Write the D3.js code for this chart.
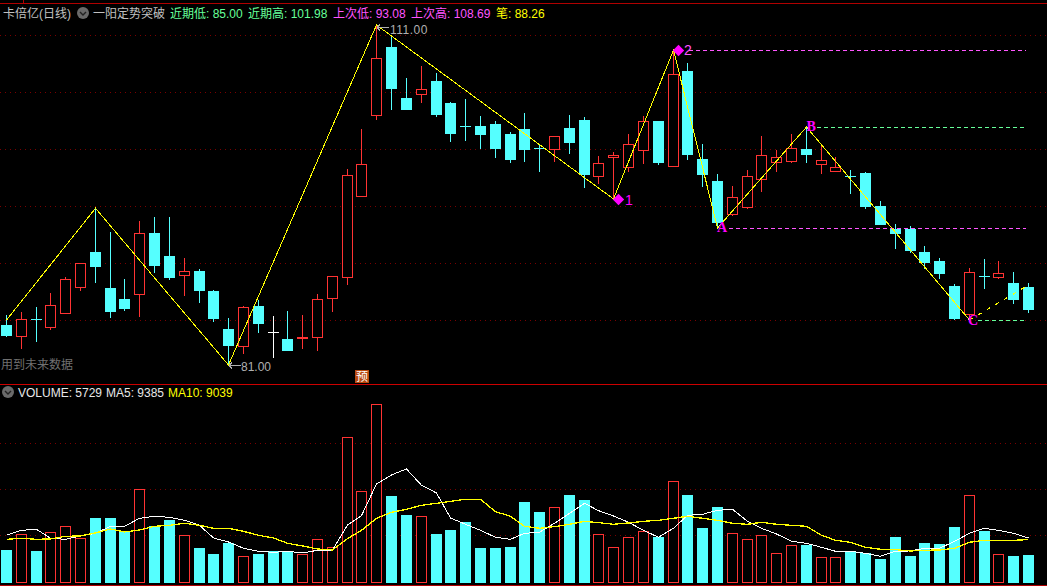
<!DOCTYPE html>
<html><head><meta charset="utf-8">
<script src="https://cdnjs.cloudflare.com/ajax/libs/d3/7.8.5/d3.min.js"></script>
<style>html,body{margin:0;padding:0;background:#000;overflow:hidden}svg{display:block}text{font-family:"Liberation Sans","Noto Sans CJK SC",sans-serif;font-size:12px}</style>
</head><body><svg id="c" width="1047" height="586"></svg>
<script>
const opens=[84.53,83.59,85.03,84.38,85.62,87.91,90.97,87.79,86.82,87.29,92.65,90.62,88.97,89.29,87.53,84.18,82.70,86.21,83.94,83.29,83.36,83.44,86.94,88.79,95.94,103.09,109.06,104.56,104.94,106.06,104.12,102.06,102.09,102.27,101.38,101.82,100.12,100.09,101.91,102.62,97.70,99.33,98.50,100.00,102.53,98.59,106.94,99.18,97.24,94.35,94.97,97.44,98.94,99.03,100.06,98.71,98.14,97.65,97.94,95.03,93.00,93.00,90.97,90.18,87.97,85.47,88.83,88.79,88.24,87.88];
const highs=[85.41,85.68,86.12,87.33,88.74,89.97,94.83,92.74,88.59,93.71,94.06,94.06,90.44,89.47,87.62,85.15,86.18,86.74,85.30,85.77,85.41,87.26,88.83,98.29,101.82,111.00,109.94,106.32,107.38,106.76,104.21,104.47,102.97,102.53,101.56,103.24,100.50,101.21,103.06,102.88,99.44,99.79,101.38,102.94,102.53,108.79,107.65,100.50,97.85,96.79,98.21,101.21,99.97,101.38,102.00,100.32,99.35,98.21,98.03,95.47,93.44,93.26,91.50,90.44,88.15,89.56,90.35,90.18,89.21,88.24];
const lows=[83.47,82.41,83.03,84.09,85.50,87.56,88.26,85.15,85.77,85.23,89.12,88.50,87.09,86.47,84.79,81.00,81.97,83.82,81.62,82.32,82.41,82.24,85.68,88.06,95.94,102.62,103.50,103.59,104.12,102.88,100.68,100.77,100.06,99.26,98.82,98.91,98.03,98.91,99.62,96.62,96.97,95.65,98.03,98.74,98.65,98.59,99.09,96.71,93.09,94.15,94.77,96.26,98.03,98.82,98.82,97.85,98.03,96.09,94.77,93.35,91.24,90.88,89.47,88.59,84.97,84.97,87.71,88.59,86.38,85.59];
const closes=[83.65,85.03,85.02,86.27,88.56,89.97,89.74,85.77,86.03,92.65,89.82,88.77,89.27,87.62,85.15,82.76,86.09,84.71,83.94,82.32,83.47,86.79,88.83,97.76,98.71,108.06,105.44,103.59,105.35,103.15,101.47,102.05,101.38,100.15,99.18,100.06,100.11,101.21,100.68,97.85,98.80,99.50,100.47,102.50,98.91,106.65,99.62,97.85,93.62,95.80,97.65,99.50,99.33,100.12,99.62,99.06,98.44,97.64,95.03,93.44,92.65,91.15,90.09,89.12,85.15,89.18,88.82,89.09,86.82,85.94];
const volumes=[6819,10175,6605,10603,11888,9318,13673,13673,10674,19814,11960,13245,9960,7247,5962,8318,5462,5962,6533,6390,5891,9104,7390,30952,19385,38021,18386,14316,14030,10246,11103,12816,7247,7247,7461,17100,14958,15958,18600,17529,10175,7390,9532,10817,9603,21527,18600,11531,16029,10389,9104,9960,6105,7818,7890,5248,5248,6605,6176,4891,9603,5534,8318,8104,11745,18528,10889,5891,5534,5729];
const ma5=[9960,11031,11246,9318,9104,9818,10389,11888,11888,13602,14030,13816,13173,12102,9389,8532,7176,6533,6319,6533,6176,6747,6819,12174,14173,20956,22884,24169,20670,19028,13673,12317,11031,9532,9104,10389,10603,12531,14673,16815,15244,14102,12745,11031,9532,11460,14244,14459,15315,15530,12959,11460,10246,8675,8247,7390,6533,6533,6105,5462,6533,6605,7176,7176,8675,10389,11460,11031,10389,9385];
const ma10=[9104,9318,9104,9175,9746,9818,10460,11317,10674,11103,11888,12102,12531,12102,11460,11460,10817,9960,9389,8247,7676,7033,6819,9246,11031,13602,14887,15530,16386,16815,17243,17672,17672,15030,14030,11888,11460,11817,12317,12959,12674,12317,12602,12959,13173,13602,14030,13602,13173,12531,12317,12745,12317,12102,11888,9960,8889,8461,7390,6962,6890,6605,6747,6819,7176,8461,8889,8889,8889,9039];
const zigIdx=[0,6,15,25,41,45,48,54,65];
const zigPrice=[84.97,94.83,81.00,111.00,95.65,108.79,93.09,102.00,84.97];
const tailIdx=[65,69];
const tailPrice=[84.97,88.06];
const priceGrid=[110.09,105.06,100.03,95.00,89.97,84.95];
const volGrid=[9950,19800,29650];
const levelLabels=["2","B","A","C"];
const levelIdx=[45,54,48,65];
const levelPrice=[108.79,102.00,93.09,84.97];
const headerTexts=["卡倍亿(日线)","一阳定势突破","近期低: 85.00","近期高: 101.98","上次低: 93.08","上次高: 108.69","笔: 88.26"];
const volTexts=["VOLUME: 5729","MA5: 9385","MA10: 9039"];

const W=1047,H=586,svg=d3.select("#c");
const RED="#ff3333",CY="#55ffff",GRID="#7a0000",BORDER="#b00000",YEL="#ffff00",MAG="#ff00ff",PINK="#ff55ff",GRN="#66ff99";
const n=opens.length;
const xS=d3.scalePoint().domain(d3.range(n)).range([6,1028]);
const X=i=>Math.round(xS(i));
const yP=d3.scaleLinear().domain([81,111]).range([365,25]);
const yV=d3.scaleLinear().domain([0,38000]).range([581.8,404.4]);
const px=v=>Math.round(v)+0.5;
const root=svg.append("g").attr("shape-rendering","crispEdges");
root.append("rect").attr("width",W).attr("height",H).attr("fill","#000");

const hline=(y,x1,x2,c,dash)=>root.append("line").attr("x1",x1).attr("x2",x2).attr("y1",y).attr("y2",y).attr("stroke",c).attr("stroke-dasharray",dash||null);
priceGrid.forEach(p=>hline(px(yP(p)-.5),0,W,GRID,"1,4"));
volGrid.forEach(v=>hline(px(yV(v)-.5),0,W,GRID,"1,4"));
hline(3.5,0,W,BORDER);
root.append("line").attr("x1",23.5).attr("x2",23.5).attr("y1",0).attr("y2",3).attr("stroke",BORDER);
hline(384.5,0,W,"#cc0000");
hline(585.5,0,W,BORDER);

// candles
const g=root.append("g");
d3.range(n).forEach(i=>{
  const o=opens[i],c=closes[i],up=c>o,flat=c===o;
  const col=flat?"#ffffff":up?RED:CY,cx=X(i);
  const top=Math.round(yP(Math.max(o,c))),bot=Math.round(yP(Math.min(o,c)));
  g.append("line").attr("x1",cx+.5).attr("x2",cx+.5).attr("y1",Math.round(yP(highs[i]))).attr("y2",Math.round(yP(lows[i]))).attr("stroke",col);
  if(bot-top<=1){
    g.append("line").attr("x1",cx-5).attr("x2",cx+6).attr("y1",top+.5).attr("y2",top+.5).attr("stroke",col);
    if(i===20) g.append("line").attr("x1",cx-5).attr("x2",cx+6).attr("y1",top+1.5).attr("y2",top+1.5).attr("stroke",col);
  } else if(up){
    g.append("rect").attr("x",cx-5+.5).attr("y",top+.5).attr("width",10).attr("height",bot-top).attr("fill","#000").attr("stroke",RED);
  } else {
    g.append("rect").attr("x",cx-5).attr("y",top).attr("width",11).attr("height",bot-top+1).attr("fill",CY);
  }
});

// levels
const levelCols=[PINK,GRN,PINK,GRN],levelOff=[16,11,12,9];
levelIdx.forEach((li,k)=>{
  hline(px(yP(levelPrice[k])),X(li)+levelOff[k],X(69)-2,levelCols[k],"4,3");
});

// zigzag
const line=d3.line().x(d=>X(d[0])+.5).y(d=>yP(d[1])).curve(d3.curveLinear);
root.append("path").attr("d",line(zigIdx.map((d,k)=>[d,zigPrice[k]]))).attr("fill","none").attr("stroke",YEL);
root.append("path").attr("d",line(tailIdx.map((d,k)=>[d,tailPrice[k]]))).attr("fill","none").attr("stroke",YEL).attr("stroke-width",1.2).attr("stroke-dasharray","4,6");

// volumes
const vb=root.append("g");
const baseY=Math.round(yV(0));
volumes.forEach((v,i)=>{
  const cx=X(i),t=Math.round(yV(v));
  if(closes[i]>opens[i]) vb.append("rect").attr("x",cx-4.5).attr("y",t+.5).attr("width",10).attr("height",baseY-t).attr("fill","#000").attr("stroke",RED);
  else vb.append("rect").attr("x",cx-5).attr("y",t).attr("width",11).attr("height",baseY-t+1).attr("fill",CY);
});
const maLine=d3.line().x((d,i)=>X(i)+.5).y(d=>yV(d));
root.append("path").attr("d",maLine(ma5)).attr("fill","none").attr("stroke","#fff");
root.append("path").attr("d",maLine(ma10)).attr("fill","none").attr("stroke",YEL).attr("stroke-width",1.3);

// diamonds & labels
const t=svg.append("g");
const diamond=(cx,cy)=>root.append("path").attr("d",d3.symbol(d3.symbolSquare,64)()).attr("transform",`translate(${cx},${cy}) rotate(45)`).attr("fill",MAG).attr("shape-rendering","auto");
diamond(X(41)+5.5,px(yP(95.65)));
diamond(X(45)+5.5,px(yP(108.79)));
const txt=(s,x,y,c,extra)=>{const e=t.append("text").attr("x",x).attr("y",y).attr("fill",c).text(s);if(extra)extra(e);return e;};
const big=e=>e.style("font-size","14px");
txt("1",X(41)+12,205,MAG,big);
txt(levelLabels[0],X(45)+11,55,PINK,big);
const serif=e=>e.style("font-family","'Liberation Serif',serif").style("font-weight","bold").style("font-size","14px");
txt(levelLabels[1],X(54)+.5,131,MAG,serif);
txt(levelLabels[2],X(48),232,MAG,serif);
txt(levelLabels[3],X(65)-1,325,MAG,serif);

// price high/low notes
const arrow=(x,y,len)=>root.append("path").attr("d",`M${x},${y}h${len}M${x},${y}l3,-3M${x},${y}l3,3`).attr("stroke","#b0b0b0").attr("fill","none");
arrow(X(25)+1,px(yP(111)+2),12);
txt("111.00",390,34,"#b0b0b0",e=>e.style("letter-spacing","0.5px"));
arrow(X(15)+1,px(yP(81)),12);
txt("81.00",241,371,"#b0b0b0");
txt("用到未来数据",1,369,"#707070");

// badge
root.append("rect").attr("x",355).attr("y",370).attr("width",14).attr("height",13).attr("fill","#b84a10");
t.append("text").attr("x",356).attr("y",381).attr("fill","#fff").style("font-size","12px").text("预");

// headers
const icon=(cx,cy)=>{
  root.append("circle").attr("cx",cx).attr("cy",cy).attr("r",6).attr("fill","#6a6a6a").attr("shape-rendering","auto");
  root.append("path").attr("d",`M${cx-3},${cy-1}l3,3l3,-3`).attr("stroke","#222").attr("fill","none").attr("stroke-width",1.4).attr("shape-rendering","auto");
};
icon(83,13);icon(8,392);
const hx=[3,93,170,248,333,411,496],hc=["#c0c0c0","#c0c0c0",GRN,GRN,PINK,PINK,YEL];
headerTexts.forEach((s,i)=>txt(s,hx[i],18,hc[i]));
const vx=[18,106,168],vc=["#e8e8e8","#e8e8e8",YEL];
volTexts.forEach((s,i)=>txt(s,vx[i],397,vc[i]));
</script></body></html>
